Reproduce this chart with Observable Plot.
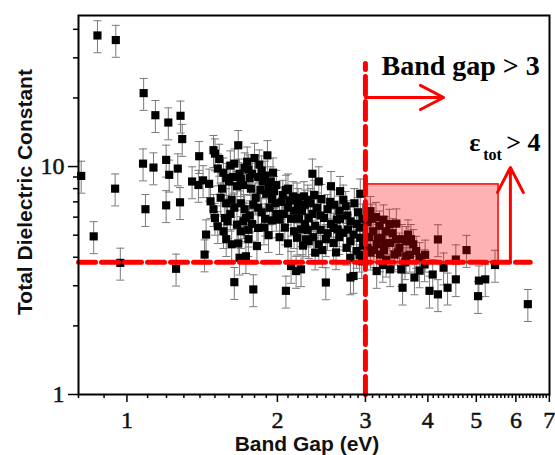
<!DOCTYPE html>
<html><head><meta charset="utf-8">
<script src="https://cdn.jsdelivr.net/npm/d3@7"></script>
<script src="https://cdn.jsdelivr.net/npm/@observablehq/plot@0.6"></script>
<style>body{margin:0;background:#fff}</style>
</head><body><div id="chart"></div>
<script>
// Band gap (eV) of each material
const bandGap = [
  0.873,0.95,1.08,1.14,1.21,1.28,1.29,0.81,0.947,1.077,1.13,1.198,1.215,1.264,1.35,1.089,1.198,1.277,0.858,0.97,1.254,
  1.395,1.49,1.50,1.52,1.39,1.42,1.46,1.55,1.61,1.67,1.64,1.68,1.47,1.49,1.50,1.62,1.64,1.57,1.59,1.52,1.44,1.66,1.71,1.62,1.67,1.43,1.68,1.64,1.73,
  1.80,1.91,1.84,1.75,1.76,1.83,1.87,1.94,1.97,1.77,1.81,1.83,1.73,1.75,1.83,1.82,2.02,2.02,2.10,2.05,2.15,2.19,2.26,2.10,2.16,2.24,2.16,2.19,2.28,2.13,2.18,2.23,1.79,2.08,
  2.35,2.67,2.71,2.93,2.30,2.40,2.52,2.31,2.48,2.63,2.80,2.30,2.44,2.59,2.71,2.84,2.93,2.31,2.42,2.59,2.75,2.88,2.38,2.80,2.95,2.50,2.80,2.84,
  3.07,3.26,3.46,3.65,4.19,3.11,3.23,3.30,3.16,3.36,3.51,3.62,3.74,3.79,3.07,3.21,3.43,3.62,3.16,3.36,3.54,3.76,3.94,4.09,3.56,4.03,4.19,4.38,4.55,
  4.78,4.55,5.45,5.06,5.21,5.04,6.34,
  1.53,1.56,1.58,1.60,1.63,1.66,1.69,1.72,1.74,1.78,1.71,1.86,1.89,1.92,1.96,1.99,1.85,1.90,1.95,1.98,
  1.54,1.58,1.61,1.69,1.72,1.76,1.79,1.86,1.89,1.93,1.56,1.69,1.78,1.88,1.95,1.99,1.58,1.75,1.92,
  2.04,2.08,2.12,2.20,2.27,2.33,2.37,2.45,2.55,2.60,2.66,2.74,2.85,2.90,2.06,2.13,2.21,2.27,2.35,2.44,2.56,2.67,2.76,2.88,2.96,
  2.07,2.23,2.38,2.52,2.64,2.77,2.92,2.10,2.25,2.36,2.50,2.66,2.80,2.97,2.46,2.62,2.92,2.56,2.42,
  3.03,3.09,3.15,3.20,3.35,3.40,3.05,3.18,3.28,3.45,3.55,3.70,3.03,3.12,3.27,3.48,3.68,3.85,3.95,3.30,3.60,3.25,3.85,4.30
];
// Total dielectric constant of each material
const dielectric = [
  37.6,35.9,21.0,16.8,15.6,16.7,13.2,9.1,8.0,10.3,9.9,10.7,9.2,9.8,8.6,6.5,6.76,6.97,4.94,3.78,3.56,
  11.1,11.8,11.4,9.8,8.3,8.7,8.4,8.0,10.1,12.4,10.3,9.3,7.04,6.5,5.95,7.15,6.6,5.95,5.75,5.47,5.03,5.56,5.75,4.56,4.6,4.11,3.98,3.11,4.04,
  10.9,11.2,10.2,9.7,8.9,9.0,8.6,8.6,7.8,8.0,7.3,6.6,5.95,5.28,5.38,4.48,5.85,4.9,8.0,7.5,7.4,7.3,7.4,6.6,6.4,6.4,5.2,4.87,4.79,3.66,3.48,3.54,2.89,2.85,
  9.3,7.8,7.15,7.6,7.15,6.6,6.5,5.95,5.95,5.85,5.75,5.28,5.28,5.38,5.12,5.03,4.87,4.70,4.56,4.62,4.40,4.26,4.19,3.98,3.84,3.10,3.26,3.31,
  6.37,5.85,5.62,5.03,4.79,5.2,4.87,5.2,4.56,4.62,4.40,4.70,4.56,4.26,4.19,4.11,4.11,4.04,3.48,3.54,3.54,3.26,3.72,3.36,2.94,2.85,2.75,2.94,3.20,
  4.30,3.91,3.70,3.16,3.20,2.70,2.49,
  10.8,9.4,8.9,8.6,9.0,8.2,8.8,9.9,10.5,9.3,8.3,9.6,9.1,8.2,9.4,8.3,7.9,7.6,7.2,6.9,
  7.3,6.9,6.2,6.9,6.5,6.1,6.8,6.3,5.9,6.6,5.2,5.2,5.6,5.4,5.8,6.2,4.8,4.8,5.0,
  7.0,7.9,7.1,6.9,6.8,6.9,7.5,7.2,7.0,6.8,6.4,6.7,6.9,6.3,6.2,5.9,5.9,5.6,6.2,6.1,5.6,5.9,6.1,5.6,5.9,
  5.4,5.3,5.5,5.1,5.3,5.3,5.4,4.6,4.5,4.9,4.8,4.9,4.7,4.5,4.3,4.2,4.1,8.2,8.6,
  5.7,5.9,6.0,5.5,5.6,5.1,4.9,4.8,4.6,4.8,4.8,4.8,4.4,4.3,4.3,4.2,4.1,4.0,4.1,3.9,3.8,3.7,3.5,3.6
];
const errFrac = 0.16; // relative uncertainty shown by the error bars

const xTicks = [1, 2, 3, 4, 5, 6, 7];
const yTicks = [1, 10];
const yMinor = [2, 3, 4, 5, 6, 7, 8, 9, 20, 30, 40];

// selection thresholds / annotations (data units)
const region = {x1: 3, x2: 5.54, y1: 3.8, y2: 8.35};
const hLine = [{x: 0.8, y: 3.8}, {x: 6.41, y: 3.8}];
const vLine = [{x: 3, y: 1}, {x: 3, y: 28.3}];
const gapArrow = {x1: 3, x2: 4.30, y: 20.1};
const epsArrow = {x: 5.85, y1: 3.8, y2: 9.9};
const gapLabel = {x: 3.23, y: 25.1, text: "Band gap > 3"};
const epsLabel = {x: 4.84, y: 11.75};

const xMinor = d3.range(8, 70).map(i => i / 10).filter(v => !xTicks.includes(v));

const points = bandGap.map((x, i) => ({
  x, y: dielectric[i],
  lo: dielectric[i] * (1 - errFrac), hi: dielectric[i] * (1 + errFrac)
}));

const cap = {draw(ctx, size) { const w = Math.sqrt(size / Math.PI); ctx.moveTo(-w, 0); ctx.lineTo(w, 0); }};

const serif = "Liberation Serif, Times New Roman, serif";
const sans = "Liberation Sans, Arial, sans-serif";

const chart = Plot.plot({
  width: 555, height: 455,
  marginLeft: 78, marginRight: 6, marginTop: 15, marginBottom: 61,
  x: {type: "log", domain: [0.8, 7.005]},
  y: {type: "log", domain: [1, 46]},
  style: {fontFamily: serif, background: "#fff"},
  marks: [
    Plot.ruleX(points, {x: "x", y1: "lo", y2: "hi", stroke: "#7a7a7a", strokeWidth: 1}),
    Plot.dot(points, {x: "x", y: "hi", symbol: cap, r: 4, stroke: "#7a7a7a", strokeWidth: 1, fill: "none"}),
    Plot.dot(points, {x: "x", y: "lo", symbol: cap, r: 4, stroke: "#7a7a7a", strokeWidth: 1, fill: "none"}),
    Plot.dot(points, {x: "x", y: "y", symbol: "square", r: 4.6, fill: "#000", stroke: "none"}),
    Plot.rect([region], {x1: "x1", x2: "x2", y1: "y1", y2: "y2", fill: "#ff0000", fillOpacity: 0.3, stroke: "#ff0000", strokeWidth: 1.5}),
    Plot.line(hLine, {x: "x", y: "y", stroke: "#ff0000", strokeWidth: 5, strokeDasharray: "17,6"}),
    Plot.line(vLine, {x: "x", y: "y", stroke: "#ff0000", strokeWidth: 5, strokeDasharray: "18,7"}),
    Plot.arrow([gapArrow], {x1: "x1", x2: "x2", y1: "y", y2: "y", stroke: "#ff0000", strokeWidth: 3, headLength: 15, headAngle: 55}),
    Plot.arrow([epsArrow], {x1: "x", x2: "x", y1: "y1", y2: "y2", stroke: "#ff0000", strokeWidth: 3, headLength: 14, headAngle: 55}),
    Plot.text([gapLabel], {x: "x", y: "y", text: "text", textAnchor: "start", lineAnchor: "bottom", fontSize: 28, fontWeight: "bold", fontFamily: serif, fill: "#000"}),
    Plot.text([epsLabel], {x: "x", y: "y", text: () => "ε", textAnchor: "start", lineAnchor: "bottom", fontSize: 26, fontWeight: "bold", fontFamily: serif, fill: "#000"}),
    Plot.text([epsLabel], {x: "x", y: "y", text: () => "tot", dx: 14, dy: 9, textAnchor: "start", lineAnchor: "bottom", fontSize: 16, fontWeight: "bold", fontFamily: serif, fill: "#000"}),
    Plot.text([epsLabel], {x: "x", y: "y", text: () => "> 4", dx: 37, textAnchor: "start", lineAnchor: "bottom", fontSize: 26, fontWeight: "bold", fontFamily: serif, fill: "#000"}),
    Plot.axisX(xTicks, {tickSize: 8, strokeWidth: 1.5, tickFormat: () => "", label: null}),
    Plot.axisX(xMinor, {tickSize: 4, strokeWidth: 1.5, tickFormat: () => "", label: null}),
    Plot.axisY(yTicks, {tickSize: 10, strokeWidth: 1.5, tickFormat: () => "", label: null}),
    Plot.axisY(yMinor, {tickSize: 5, strokeWidth: 1.5, tickFormat: () => "", label: null}),
    Plot.frame({stroke: "#000", strokeWidth: 2}),
    Plot.text(xTicks, {x: d => d, text: d => String(d), frameAnchor: "bottom", lineAnchor: "top", textAnchor: "middle", dy: 16, fontSize: 24, fontFamily: serif, fill: "#111", stroke: "#111", strokeWidth: 0.5}),
    Plot.text(yTicks, {y: d => d, text: d => String(d), frameAnchor: "left", lineAnchor: "middle", textAnchor: "end", dx: -14, fontSize: 24, fontFamily: serif, fill: "#111", stroke: "#111", strokeWidth: 0.5}),
    Plot.text(["Band Gap (eV)"], {frameAnchor: "bottom", lineAnchor: "bottom", dx: -7, dy: 56, fontSize: 21, fontWeight: "bold", fontFamily: sans, fill: "#111"}),
    Plot.text(["Total Dielectric Constant"], {frameAnchor: "left", textAnchor: "middle", rotate: -90, dx: -53, dy: -13, fontSize: 21, fontWeight: "bold", fontFamily: sans, fill: "#111"})
  ]
});
document.getElementById("chart").appendChild(chart);
</script>
</body></html>
